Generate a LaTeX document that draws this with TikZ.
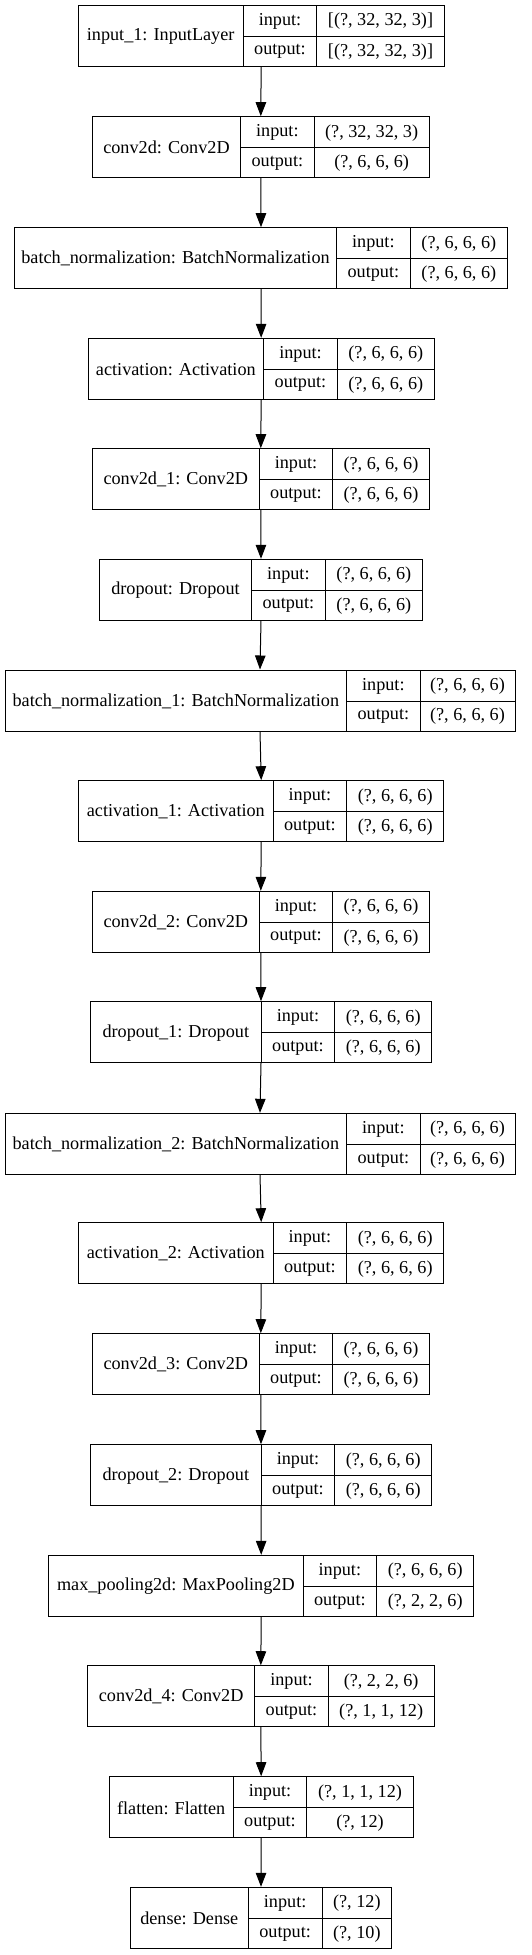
\documentclass[tikz,border=0pt]{standalone}
\usepackage{fontspec}
\setmainfont{Liberation Serif}
\usetikzlibrary{arrows.meta,fit}
\tikzset{
  boxline/.style={draw=black,line width=1pt},
  cell/.style={inner sep=0pt,font=\fontsize{18.2}{20}\selectfont,anchor=center},
  outerbox/.style={draw=black,line width=1pt,inner sep=0pt},
  arr/.style={draw=black,line width=1pt,-{Triangle[length=14pt,width=10.5pt]}}
}
% #1 name, #2 label, #3 in, #4 out, #5 top, #6 L, #7 d1, #8 d2, #9 R
\newcommand\layerbox[9]{%
  \coordinate (#1-nw) at (#6,#5);
  \coordinate (#1-se) at (#9,{#5+61});
  \node[outerbox,fit=(#1-nw)(#1-se)] (#1) {};
  \draw[boxline] (#7,#5) -- (#7,{#5+61});
  \draw[boxline] (#8,#5) -- (#8,{#5+61});
  \draw[boxline] (#7,{#5+31}) -- (#9,{#5+31});
  \node[cell] (#1-lbl) at ({(#6+#7)/2},{#5+31}) {#2};
  \node[cell] (#1-ik) at ({(#7+#8)/2},{#5+16}) {input:};
  \node[cell] (#1-iv) at ({(#8+#9)/2},{#5+16}) {#3};
  \node[cell] (#1-ok) at ({(#7+#8)/2},{#5+46.5}) {output:};
  \node[cell] (#1-ov) at ({(#8+#9)/2},{#5+46.5}) {#4};
}
\begin{document}
\begin{tikzpicture}[x=1pt,y=-1pt]
\useasboundingbox[fill=white] (0,0) rectangle (531,1955);
\layerbox{n1}{input\_1: InputLayer}{[(?, 32, 32, 3)]}{[(?, 32, 32, 3)]}{5.3}{78}{243.3}{316.7}{444.3}
\layerbox{n2}{conv2d: Conv2D}{(?, 32, 32, 3)}{(?, 6, 6, 6)}{116.7}{92.3}{240.7}{314}{429.3}
\layerbox{n3}{batch\_normalization: BatchNormalization}{(?, 6, 6, 6)}{(?, 6, 6, 6)}{227.7}{14.3}{336.7}{410}{507.7}
\layerbox{n4}{activation: Activation}{(?, 6, 6, 6)}{(?, 6, 6, 6)}{338.3}{88}{263.7}{337.3}{434.3}
\layerbox{n5}{conv2d\_1: Conv2D}{(?, 6, 6, 6)}{(?, 6, 6, 6)}{448.7}{92.3}{259.3}{332.7}{429.3}
\layerbox{n6}{dropout: Dropout}{(?, 6, 6, 6)}{(?, 6, 6, 6)}{559.3}{99.3}{251.7}{325}{422.7}
\layerbox{n7}{batch\_normalization\_1: BatchNormalization}{(?, 6, 6, 6)}{(?, 6, 6, 6)}{670}{5}{346.7}{420}{515}
\layerbox{n8}{activation\_1: Activation}{(?, 6, 6, 6)}{(?, 6, 6, 6)}{780.7}{78.7}{273}{346.7}{443.7}
\layerbox{n9}{conv2d\_2: Conv2D}{(?, 6, 6, 6)}{(?, 6, 6, 6)}{891.3}{92.3}{259.3}{332.7}{429.3}
\layerbox{n10}{dropout\_1: Dropout}{(?, 6, 6, 6)}{(?, 6, 6, 6)}{1001.7}{90.3}{261.3}{334.7}{431.7}
\layerbox{n11}{batch\_normalization\_2: BatchNormalization}{(?, 6, 6, 6)}{(?, 6, 6, 6)}{1113.3}{5}{346.7}{420}{515}
\layerbox{n12}{activation\_2: Activation}{(?, 6, 6, 6)}{(?, 6, 6, 6)}{1222.7}{78.7}{273}{346.7}{443.7}
\layerbox{n13}{conv2d\_3: Conv2D}{(?, 6, 6, 6)}{(?, 6, 6, 6)}{1333.7}{92.3}{259.3}{332.7}{429.3}
\layerbox{n14}{dropout\_2: Dropout}{(?, 6, 6, 6)}{(?, 6, 6, 6)}{1444.7}{90.3}{261.3}{334.7}{431.7}
\layerbox{n15}{max\_pooling2d: MaxPooling2D}{(?, 6, 6, 6)}{(?, 2, 2, 6)}{1555.3}{48.7}{303}{376.7}{473.7}
\layerbox{n16}{conv2d\_4: Conv2D}{(?, 2, 2, 6)}{(?, 1, 1, 12)}{1665.7}{87.7}{254.7}{328.3}{434}
\layerbox{n17}{flatten: Flatten}{(?, 1, 1, 12)}{(?, 12)}{1776.7}{109}{233.3}{306.7}{413.3}
\layerbox{n18}{dense: Dense}{(?, 12)}{(?, 10)}{1887.3}{130.3}{248.3}{322}{391.7}
\foreach \a/\b in {n1/n2,n2/n3,n3/n4,n4/n5,n5/n6,n6/n7,n7/n8,n8/n9,n9/n10,n10/n11,n11/n12,n12/n13,n13/n14,n14/n15,n15/n16,n16/n17,n17/n18}
  \draw[arr] (\a.south) -- (\b.north);
\end{tikzpicture}
\end{document}
